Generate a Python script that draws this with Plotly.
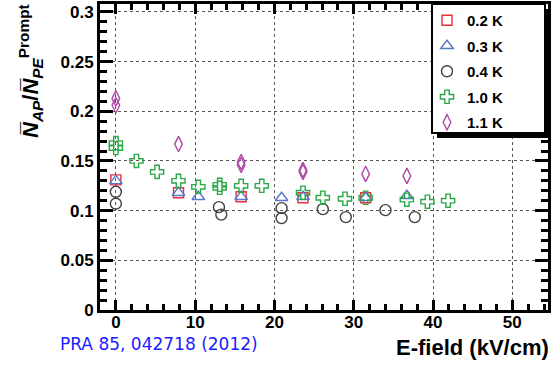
import plotly.graph_objects as go

# ---- data ----
x_02K = [0, 7.9, 15.8, 23.6, 31.5]
y_02K = [0.131, 0.118, 0.114, 0.113, 0.113]

x_03K = [0, 7.9, 10.4, 15.8, 20.9, 23.6, 31.5, 36.7]
y_03K = [0.130, 0.118, 0.114, 0.114, 0.113, 0.114, 0.113, 0.115]

x_04K = [0, 0, 13.0, 13.3, 20.9, 20.9, 26.1, 29.0, 34.0, 37.7]
y_04K = [0.119, 0.107, 0.1035, 0.096, 0.1025, 0.0925, 0.1015, 0.0935, 0.1005, 0.0935]

x_10K = [0, 0, 2.6, 5.2, 7.9, 10.4, 13.1, 13.1, 15.8, 18.4, 23.6, 26.1, 28.9, 31.5, 36.7, 39.3, 41.9]
y_10K = [0.168, 0.163, 0.150, 0.139, 0.130, 0.124, 0.126, 0.123, 0.125, 0.125, 0.118, 0.113, 0.112, 0.113, 0.111, 0.109, 0.110]

x_11K = [0, 0, 7.9, 15.8, 15.8, 23.6, 23.6, 31.5, 36.7]
y_11K = [0.213, 0.206, 0.167, 0.149, 0.146, 0.141, 0.139, 0.137, 0.135]

x_ticks = [0, 10, 20, 30, 40, 50]
y_ticks = [0, 0.05, 0.1, 0.15, 0.2, 0.25, 0.3]
y_ticklabels = ["0", "0.05", "0.1", "0.15", "0.2", "0.25", "0.3"]

series = [
    ("0.2 K", x_02K, y_02K, "square-open", "#e8303c", 10),
    ("0.3 K", x_03K, y_03K, "triangle-up-open", "#5a78c8", 11),
    ("0.4 K", x_04K, y_04K, "circle-open", "#404040", 11),
    ("1.0 K", x_10K, y_10K, "cross-open", "#2ca848", 11),
    ("1.1 K", x_11K, y_11K, "diamond-tall-open", "#b048a8", 11),
]

FONT = "Liberation Sans"

fig = go.Figure()
for i, (name, xs, ys, sym, col, sz) in enumerate(series):
    fig.add_trace(go.Scatter(
        x=xs, y=ys, mode="markers", name=name, legendgroup=name,
        marker=dict(symbol=sym, size=sz, color=col, line=dict(width=1.4, color=col)),
    ))

axis_common = dict(
    showline=True, linewidth=3, linecolor="black", mirror="allticks",
    ticks="inside", tickwidth=3, tickcolor="black",
    showgrid=True, gridcolor="#555555", griddash="dot", gridwidth=1,
    zeroline=False,
    tickfont=dict(family=FONT, size=17, color="black", weight="bold"),
)

fig.update_xaxes(
    range=[-2.0, 54.5], tickvals=x_ticks, ticklen=10, ticklabelstandoff=-5,
    minor=dict(dtick=2, ticklen=6, tickwidth=2.5, tickcolor="black", ticks="inside", showgrid=False),
    **axis_common,
)
fig.update_yaxes(
    range=[0, 0.308], tickvals=y_ticks, ticktext=y_ticklabels, ticklen=13,
    minor=dict(dtick=0.01, ticklen=7, tickwidth=2.5, tickcolor="black", ticks="inside", showgrid=False),
    **axis_common,
)

def px_x(p):
    return (p - 100) / 448.0

def px_y(p):
    return (310 - p) / 306.0

fig.update_layout(
    width=558, height=366,
    margin=dict(l=100, r=10, t=4, b=56, autoexpand=False),
    plot_bgcolor="white", paper_bgcolor="white",
    showlegend=True,
    legend=dict(
        x=px_x(427), y=px_y(4), xanchor="left", yanchor="top",
        bgcolor="rgba(0,0,0,0)", borderwidth=0,
        font=dict(family=FONT, size=15, color="black", weight="bold"),
        tracegroupgap=3, itemwidth=30,
    ),
    shapes=[
        dict(type="rect", xref="paper", yref="paper",
             x0=px_x(437), x1=px_x(550), y0=px_y(138), y1=px_y(9),
             fillcolor="black", line=dict(width=0), layer="above"),
        dict(type="rect", xref="paper", yref="paper",
             x0=px_x(432), x1=px_x(545), y0=px_y(133), y1=px_y(4),
             fillcolor="white", line=dict(width=2, color="black"), layer="above"),
    ],
    annotations=[
        dict(text="E-field (kV/cm)", xref="paper", yref="paper", x=1.007, y=-0.121,
             xanchor="right", yanchor="middle", showarrow=False,
             font=dict(family=FONT, size=22, color="black", weight="bold")),
        dict(text="PRA 85, 042718 (2012)", xref="paper", yref="paper", x=px_x(58), y=-0.111,
             xanchor="left", yanchor="middle", showarrow=False,
             font=dict(family="DejaVu Sans", size=17, color="#2020ff")),
        dict(text="<b><i>N\u0305</i><sub><i>AP</i></sub>/<i>N\u0305</i><sub><i>PE</i></sub><sup>Prompt</sup></b>",
             xref="paper", yref="paper", x=px_x(30), y=px_y(2), textangle=-90,
             xanchor="center", yanchor="top", showarrow=False,
             font=dict(family=FONT, size=22, color="black")),
    ],
)

fig.write_html("out.html")
